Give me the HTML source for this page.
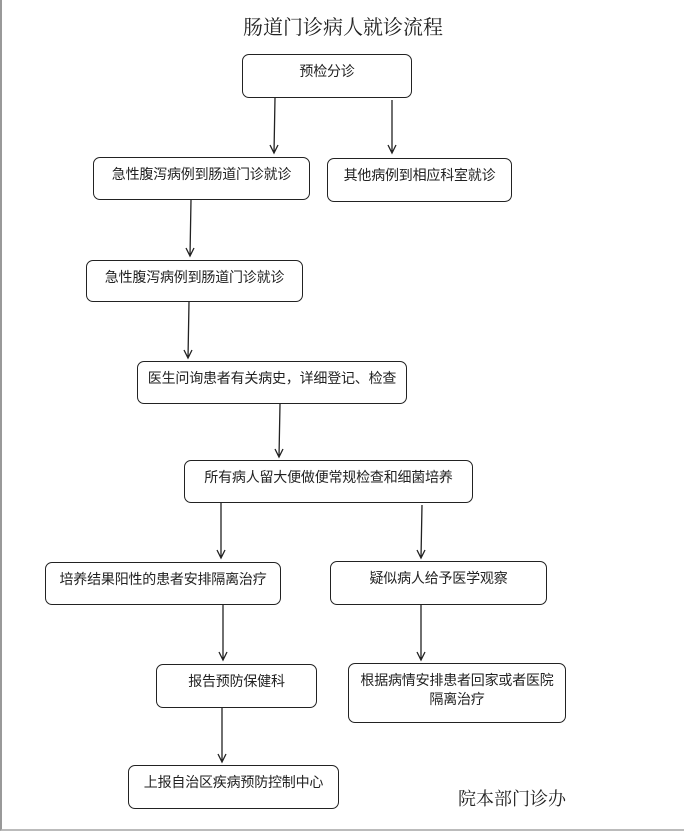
<!DOCTYPE html>
<html><head><meta charset="utf-8"><style>
body{margin:0;width:686px;height:834px;background:#fff;position:relative;overflow:hidden;font-family:"Liberation Sans","Noto Sans CJK SC",sans-serif;}
.frame{position:absolute;left:0;top:0;width:684px;height:831px;border-left:2px solid #999;border-bottom:2px solid #bbb;box-sizing:border-box;}
.b{position:absolute;border:1.3px solid #222;border-radius:7px;box-sizing:border-box;text-align:center;font-size:14px;letter-spacing:-0.2px;color:#222;padding-top:7px;line-height:19px;white-space:nowrap;}
.t{position:absolute;font-family:"Liberation Serif","Noto Serif CJK SC",serif;color:#222;}
</style></head><body>
<div class="frame"></div>
<div class="t" style="left:0;width:686px;top:11px;text-align:center;font-size:20px;">肠道门诊病人就诊流程</div>
<div class="b" style="left:242px;top:54px;width:170px;height:44px;">预检分诊</div>
<div class="b" style="left:93px;top:157px;width:217px;height:43px;">急性腹泻病例到肠道门诊就诊</div>
<div class="b" style="left:327px;top:158px;width:185px;height:44px;">其他病例到相应科室就诊</div>
<div class="b" style="left:86px;top:260px;width:217px;height:42px;">急性腹泻病例到肠道门诊就诊</div>
<div class="b" style="left:137px;top:361px;width:270px;height:43px;">医生问询患者有关病史，详细登记、检查</div>
<div class="b" style="left:184px;top:460px;width:289px;height:43px;">所有病人留大便做便常规检查和细菌培养</div>
<div class="b" style="left:45px;top:562px;width:236px;height:43px;">培养结果阳性的患者安排隔离治疗</div>
<div class="b" style="left:330px;top:561px;width:217px;height:44px;">疑似病人给予医学观察</div>
<div class="b" style="left:156px;top:664px;width:161px;height:44px;">报告预防保健科</div>
<div class="b" style="left:348px;top:663px;width:218px;height:60px;">根据病情安排患者回家或者医院<br>隔离治疗</div>
<div class="b" style="left:128px;top:765px;width:211px;height:44px;">上报自治区疾病预防控制中心</div>
<div class="t" style="left:458px;top:785px;font-size:18px;">院本部门诊办</div>
<svg width="686" height="834" style="position:absolute;left:0;top:0" fill="none" stroke="#222" stroke-width="1.3">
<g>
<path d="M275 98L274 153M270 145L274 153L278 145"/>
<path d="M392 100L392 153M388 145L392 153L396 145"/>
<path d="M191 200L190 256M186 248L190 256L194 248"/>
<path d="M189 302L188 358M184 350L188 358L192 350"/>
<path d="M280 404L279 457M275 449L279 457L283 449"/>
<path d="M221 503L221 558M217 550L221 558L225 550"/>
<path d="M422 505L421 558M417 550L421 558L425 550"/>
<path d="M223 605L223 660M219 652L223 660L227 652"/>
<path d="M421 605L421 660M417 652L421 660L425 652"/>
<path d="M222 708L222 762M218 754L222 762L226 754"/>
</g></svg>
</body></html>
